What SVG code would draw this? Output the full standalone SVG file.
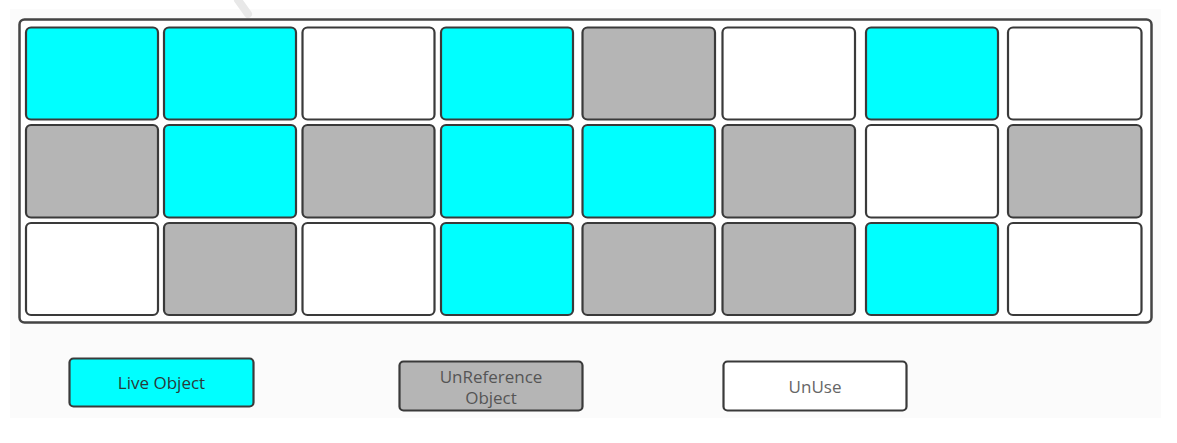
<svg xmlns="http://www.w3.org/2000/svg" width="1177" height="443" viewBox="0 0 1177 443">
<style>
.c{stroke:#3a3a3a;stroke-width:2.2}
.live{fill:#00ffff}
.unref{fill:#b5b5b5}
.unuse{fill:#ffffff}
.t{font-family:"Open Sans","Noto Sans",sans-serif;font-size:17px;text-anchor:middle}
</style>
<rect x="0" y="0" width="1177" height="443" fill="#ffffff"/>
<rect x="10" y="9" width="1151" height="409" fill="#fbfbfb"/>
<path d="M238 0 L248 14" stroke="#e8e8e8" stroke-width="8" stroke-linecap="round" fill="none"/>
<g id="heap">
<rect x="19.5" y="19.5" width="1132" height="303" rx="5" fill="#ffffff" stroke="#444" stroke-width="2.5"/>
</g>
<g id="row1">
<rect id="r1c1" class="c live" x="26" y="27.5" width="132" height="92" rx="5"/>
<rect id="r1c2" class="c live" x="164" y="27.5" width="132" height="92" rx="5"/>
<rect id="r1c3" class="c unuse" x="302.5" y="27.5" width="132" height="92" rx="5"/>
<rect id="r1c4" class="c live" x="441" y="27.5" width="132" height="92" rx="5"/>
<rect id="r1c5" class="c unref" x="582.5" y="27.5" width="132.5" height="92" rx="5"/>
<rect id="r1c6" class="c unuse" x="722.5" y="27.5" width="132.5" height="92" rx="5"/>
<rect id="r1c7" class="c live" x="866" y="27.5" width="132" height="92" rx="5"/>
<rect id="r1c8" class="c unuse" x="1008" y="27.5" width="133.5" height="92" rx="5"/>
</g>
<g id="row2">
<rect id="r2c1" class="c unref" x="26" y="125" width="132" height="92.5" rx="5"/>
<rect id="r2c2" class="c live" x="164" y="125" width="132" height="92.5" rx="5"/>
<rect id="r2c3" class="c unref" x="302.5" y="125" width="132" height="92.5" rx="5"/>
<rect id="r2c4" class="c live" x="441" y="125" width="132" height="92.5" rx="5"/>
<rect id="r2c5" class="c live" x="582.5" y="125" width="132.5" height="92.5" rx="5"/>
<rect id="r2c6" class="c unref" x="722.5" y="125" width="132.5" height="92.5" rx="5"/>
<rect id="r2c7" class="c unuse" x="866" y="125" width="132" height="92.5" rx="5"/>
<rect id="r2c8" class="c unref" x="1008" y="125" width="133.5" height="92.5" rx="5"/>
</g>
<g id="row3">
<rect id="r3c1" class="c unuse" x="26" y="223" width="132" height="92" rx="5"/>
<rect id="r3c2" class="c unref" x="164" y="223" width="132" height="92" rx="5"/>
<rect id="r3c3" class="c unuse" x="302.5" y="223" width="132" height="92" rx="5"/>
<rect id="r3c4" class="c live" x="441" y="223" width="132" height="92" rx="5"/>
<rect id="r3c5" class="c unref" x="582.5" y="223" width="132.5" height="92" rx="5"/>
<rect id="r3c6" class="c unref" x="722.5" y="223" width="132.5" height="92" rx="5"/>
<rect id="r3c7" class="c live" x="866" y="223" width="132" height="92" rx="5"/>
<rect id="r3c8" class="c unuse" x="1008" y="223" width="133.5" height="92" rx="5"/>
</g>
<g id="legend-live">
<rect class="c live" x="69.5" y="358.5" width="184" height="48" rx="4"/>
<text class="t" x="161.5" y="389" fill="#2a3a3a">Live Object</text>
</g>
<g id="legend-unref">
<rect class="c unref" x="399.5" y="361.5" width="183" height="49" rx="4"/>
<text class="t" x="491" y="383" fill="#555">UnReference</text>
<text class="t" x="491" y="404" fill="#555">Object</text>
</g>
<g id="legend-unuse">
<rect class="c unuse" x="723.5" y="361.5" width="183" height="49" rx="4"/>
<text class="t" x="815" y="393" fill="#666">UnUse</text>
</g>
<g id="connectors"></g>
</svg>
